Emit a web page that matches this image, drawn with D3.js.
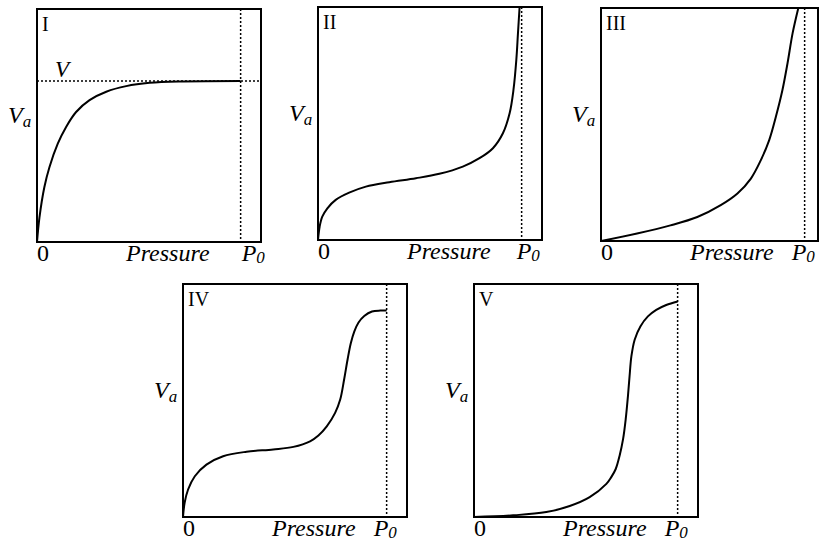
<!DOCTYPE html>
<html>
<head>
<meta charset="utf-8">
<script src="https://cdn.jsdelivr.net/npm/d3@7"></script>
<style>
  body { margin: 0; background: #fff; }
  text { font-family: "Liberation Serif", "Times New Roman", serif; fill: #000; }
</style>
</head>
<body>
<script>
// Isotherm types I..V, pressure relative to P0 (P0 = 1), adsorbed volume as fraction of box height
const panelNames = ["I", "II", "III", "IV", "V"];

const curveI = [[0,0],[0.012,0.105],[0.036,0.235],[0.061,0.321],[0.102,0.422],[0.143,0.494],
  [0.192,0.558],[0.258,0.609],[0.340,0.645],[0.438,0.669],[0.553,0.683],[0.717,0.689],[1.0,0.691]];
const curveII = [[0,0],[0.008,0.057],[0.021,0.100],[0.046,0.136],[0.087,0.172],[0.153,0.203],
  [0.235,0.229],[0.350,0.248],[0.481,0.265],[0.596,0.284],[0.711,0.315],[0.793,0.351],[0.859,0.394],
  [0.908,0.458],[0.941,0.544],[0.960,0.645],[0.974,0.774],[0.982,0.888],[0.990,1.0]];
const curveIII = [[0,0],[0.177,0.032],[0.341,0.067],[0.473,0.103],[0.588,0.154],[0.670,0.204],
  [0.736,0.268],[0.785,0.347],[0.826,0.433],[0.859,0.534],[0.891,0.648],[0.916,0.763],[0.941,0.892],[0.969,1.0]];
const curveIV = [[0,0],[0.008,0.061],[0.025,0.118],[0.058,0.175],[0.115,0.225],[0.197,0.261],
  [0.312,0.280],[0.443,0.290],[0.542,0.301],[0.624,0.325],[0.665,0.350],[0.706,0.389],[0.747,0.447],
  [0.772,0.504],[0.791,0.589],[0.808,0.675],[0.824,0.746],[0.841,0.796],[0.862,0.835],[0.890,0.863],
  [0.928,0.882],[0.969,0.886],[1.0,0.886]];
const curveV = [[0,0],[0.192,0.007],[0.355,0.021],[0.470,0.047],[0.568,0.085],[0.650,0.142],
  [0.674,0.171],[0.696,0.206],[0.715,0.263],[0.732,0.334],[0.745,0.420],[0.756,0.519],[0.764,0.605],
  [0.773,0.690],[0.789,0.761],[0.817,0.818],[0.854,0.861],[0.895,0.889],[0.944,0.910],[1.0,0.925]];
const curves = [curveI, curveII, curveIII, curveIV, curveV];

const monolayerV = 0.691;   // dotted "V" line of type I
const pMax = 1.1;           // x domain end, P0 = 1

// layout of the five boxes (III is cut by the page edge)
const W = 224, H = 233;
const layout = [
  { x: 37,  y: 9,   w: W,   p0dx: 1 },
  { x: 318, y: 7,   w: W,   p0dx: -5 },
  { x: 601, y: 8,   w: 217, p0dx: -13 },
  { x: 183, y: 284, w: W,   p0dx: -13 },
  { x: 474, y: 284, w: W,   p0dx: -13 }
];

const svg = d3.select("body").append("svg")
  .attr("width", 819)
  .attr("height", 544);

const x = d3.scaleLinear().domain([0, pMax]).range([0, W]);
const y = d3.scaleLinear().domain([0, 1]).range([H, 0]);

const line = d3.line()
  .x(d => x(d[0]))
  .y(d => y(d[1]))
  .curve(d3.curveCatmullRom.alpha(0.5));

panelNames.forEach((name, i) => {
  const L = layout[i];
  const g = svg.append("g").attr("transform", `translate(${L.x},${L.y})`);

  g.append("clipPath").attr("id", "clip" + i)
    .append("rect").attr("width", L.w).attr("height", H);

  // dotted P0 line
  g.append("line")
    .attr("x1", x(1)).attr("x2", x(1))
    .attr("y1", 0).attr("y2", H)
    .attr("stroke", "#000").attr("stroke-width", 1.5)
    .attr("stroke-dasharray", "2,2");

  if (name === "I") {
    g.append("line")
      .attr("x1", 0).attr("x2", L.w)
      .attr("y1", y(monolayerV)).attr("y2", y(monolayerV))
      .attr("stroke", "#000").attr("stroke-width", 1.5)
      .attr("stroke-dasharray", "2,2");
    g.append("text")
      .attr("x", 18).attr("y", y(monolayerV) - 4)
      .attr("font-size", 23).attr("font-style", "italic")
      .text("V");
  }

  // isotherm
  g.append("path")
    .datum(curves[i])
    .attr("clip-path", `url(#clip${i})`)
    .attr("d", line)
    .attr("fill", "none")
    .attr("stroke", "#000")
    .attr("stroke-width", 2);

  // box
  g.append("rect")
    .attr("width", L.w).attr("height", H)
    .attr("fill", "none")
    .attr("stroke", "#000")
    .attr("stroke-width", 2);

  // type label
  g.append("text")
    .attr("x", 5).attr("y", 22)
    .attr("font-size", 20)
    .text(name);

  // V_a
  const va = g.append("text")
    .attr("x", -29).attr("y", 114)
    .attr("font-size", 24).attr("font-style", "italic");
  va.append("tspan").text("V");
  va.append("tspan").attr("font-size", 17).attr("dy", 4).text("a");

  // bottom labels
  g.append("text")
    .attr("x", 0).attr("y", H + 19)
    .attr("font-size", 24)
    .text("0");

  g.append("text")
    .attr("x", 89).attr("y", H + 19)
    .attr("font-size", 24).attr("font-style", "italic")
    .text("Pressure");

  const p0 = g.append("text")
    .attr("x", x(1) + L.p0dx).attr("y", H + 19)
    .attr("font-size", 24).attr("font-style", "italic");
  p0.append("tspan").text("P");
  p0.append("tspan").attr("font-size", 17).attr("dy", 2).text("0");
});
</script>
</body>
</html>
